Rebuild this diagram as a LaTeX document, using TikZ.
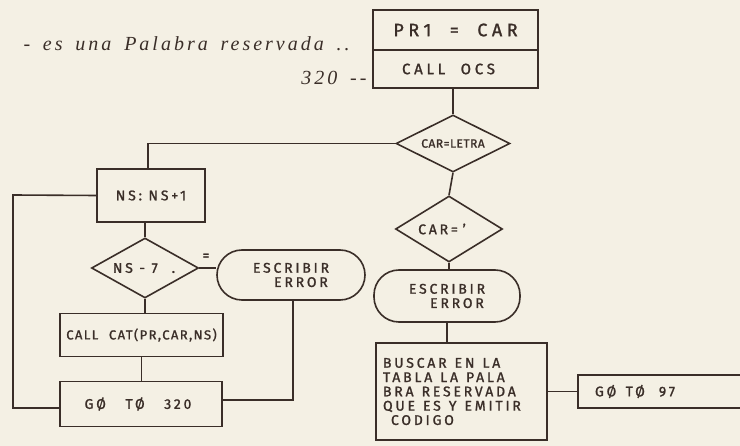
\documentclass[tikz,border=0pt]{standalone}
\usepackage{fontspec}
\setmainfont{Fira Sans}[AutoFakeBold=1.3]
\newfontfamily\boxfont{Fira Sans}[AutoFakeBold=1.3, WordSpace=2.2]
\newfontfamily\notefont{Liberation Serif}[WordSpace=1.6]
\usetikzlibrary{shapes.geometric}
\definecolor{paper}{HTML}{F4F0E4}
\definecolor{ink}{HTML}{3A2E28}
\newcommand\gap{\hspace*{8pt}}
\tikzset{
  wire/.style={draw=ink, line width=1.6pt},
  stepbox/.style={draw=ink, line width=1.6pt, rectangle, inner sep=0pt, text=ink},
  test/.style={draw=ink, line width=1.6pt, diamond, inner sep=0pt, text=ink},
  term/.style={draw=ink, line width=1.6pt, rectangle, rounded corners=25pt, inner sep=0pt, text=ink, align=center},
  caps/.style={text=ink, font=\bfseries\fontsize{14}{14.3}\selectfont\addfontfeature{LetterSpace=20}},
  note/.style={text=ink, font=\notefont\itshape\fontsize{20}{22}\selectfont\addfontfeature{LetterSpace=15}}
}
\begin{document}
\begin{tikzpicture}[x=1pt,y=-1pt]
\fill[paper] (0,0) rectangle (740,446);
\useasboundingbox (0,0) rectangle (740,446);

% header annotations
\node[note, anchor=west] (rem) at (20,44) {- es una Palabra reservada ..};
\node[note, anchor=east] (lab) at (370,78) {320 --};

% main entry block
\node[stepbox, minimum width=165pt, minimum height=40pt, font=\bfseries\fontsize{18}{20}\selectfont\addfontfeature{LetterSpace=25}] (pr) at (455.5,30) {PR1\ \ =\ \ CAR};
\node[stepbox, minimum width=165pt, minimum height=38pt, font=\bfseries\fontsize{15}{17}\selectfont\addfontfeature{LetterSpace=25}] (ocs) at (455.5,69) {\hspace*{-14pt}CALL\ \ OCS};

% right branch
\node[test, minimum width=114pt, minimum height=57pt] (d1) at (453,143.5) {};
\node[caps, font=\bfseries\fontsize{12}{13}\selectfont\addfontfeature{LetterSpace=4}] at (d1) {CAR=LETRA};
\node[test, minimum width=107pt, minimum height=66pt] (d2) at (449,229) {};
\node[caps] at ([xshift=-7pt]d2.center) {CAR=\,\,'};
\node[term, minimum width=146pt, minimum height=52pt, caps] (t2) at (447,296) {ESCRIBIR\\\hspace*{20pt}ERROR};
\node[stepbox, minimum width=171pt, minimum height=97pt, caps, text width=157pt, align=left] (busca) at (461.5,391.5)
  {BUSCAR\gap EN\gap LA\\TABLA\gap LA\gap PALA\\BRA\gap RESERVADA\\QUE\gap ES\gap Y\gap EMITIR\\\hspace*{8pt}CODIGO};
\node[stepbox, minimum width=172pt, minimum height=33pt, caps, text width=138pt, align=left] (g97) at (664,391.5) {G\O{}\ \ T\O{}\ \ \ 97};

% left branch
\node[stepbox, minimum width=108pt, minimum height=53pt, caps] (ns) at (151,195.5) {NS:\ NS+1};
\node[test, minimum width=107pt, minimum height=60pt] (d3) at (145,268) {};
\node[caps] at ([xshift=-1pt]d3.center) {NS - 7\quad .};
\node[caps] (eq) at (206,257) {=};
\node[term, minimum width=148pt, minimum height=50pt, caps] (t1) at (291,275) {ESCRIBIR\\\hspace*{20pt}ERROR};
\node[stepbox, minimum width=163pt, minimum height=43pt, caps, font=\boxfont\bfseries\fontsize{13}{14}\selectfont\addfontfeature{LetterSpace=11}] (cat) at (141.5,335) {CALL CAT(PR,CAR,NS)};
\node[stepbox, minimum width=162pt, minimum height=45pt, caps] (g320) at (141,404) {\hspace*{-6pt}G\O{}\ \ \ T\O{}\ \ \ 320};

\coordinate (lx) at (13,195);

% connectors
\draw[wire] (d1.north) -- (d1.north |- ocs.south);
\draw[wire] (d1.west) -| ([xshift=-3pt]ns.north);
\draw[wire] (d1.south) -- (d2.north);
\draw[wire] (d2.south) -- (d2.south |- t2.north);
\draw[wire] (t2.south) -- (t2.south |- busca.north);
\draw[wire] (busca.east) -- (g97.west);
\draw[wire] (d3.north) -- (d3.north |- ns.south);
\draw[wire] (d3.east) -- (d3.east -| t1.west);
\draw[wire] (d3.south) -- (d3.south |- cat.north);
\draw[wire] (cat.south) -- (cat.south |- g320.north);
\draw[wire] (ns.west) -- (lx) |- ([yshift=-4pt]g320.west);
\draw[wire] ([xshift=2pt]t1.south) |- ([yshift=4pt]g320.east);
\end{tikzpicture}
\end{document}
